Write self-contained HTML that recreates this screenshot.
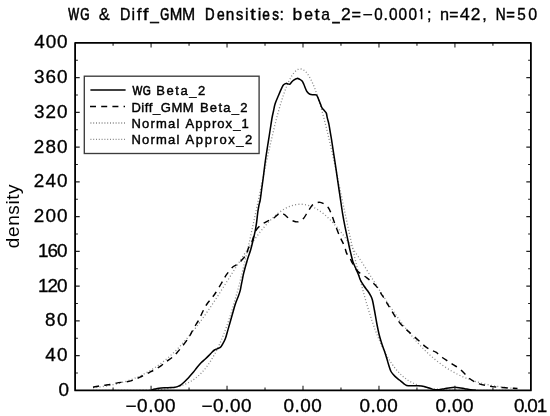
<!DOCTYPE html><html><head><meta charset="utf-8"><style>html,body{margin:0;padding:0;background:#fff;width:550px;height:416px;overflow:hidden}svg{display:block;will-change:transform}</style></head><body>
<svg width="550" height="416" viewBox="0 0 550 416">
<rect width="550" height="416" fill="#fff"/>
<defs><clipPath id="c"><rect x="75.1" y="42.9" width="455.8" height="347.5"/></clipPath></defs>
<g clip-path="url(#c)" fill="none">
<path d="M93.00,387.80 L94.00,387.69 L95.00,387.58 L96.00,387.46 L97.00,387.34 L98.00,387.21 L99.00,387.08 L100.00,386.95 L101.00,386.81 L102.00,386.66 L103.00,386.51 L104.00,386.36 L105.00,386.20 L106.00,386.03 L107.00,385.86 L108.00,385.68 L109.00,385.50 L110.00,385.31 L111.00,385.12 L112.00,384.91 L113.00,384.70 L114.00,384.49 L115.00,384.27 L116.00,384.04 L117.00,383.80 L118.00,383.56 L119.00,383.31 L120.00,383.05 L121.00,382.78 L122.00,382.50 L123.00,382.22 L124.00,381.93 L125.00,381.63 L126.00,381.32 L127.00,381.00 L128.00,380.67 L129.00,380.33 L130.00,379.98 L131.00,379.63 L132.00,379.26 L133.00,378.88 L134.00,378.49 L135.00,378.10 L136.00,377.69 L137.00,377.27 L138.00,376.83 L139.00,376.39 L140.00,375.94 L141.00,375.47 L142.00,374.99 L143.00,374.50 L144.00,374.00 L145.00,373.48 L146.00,372.95 L147.00,372.41 L148.00,371.86 L149.00,371.29 L150.00,370.71 L151.00,370.12 L152.00,369.51 L153.00,368.89 L154.00,368.25 L155.00,367.60 L156.00,366.93 L157.00,366.25 L158.00,365.56 L159.00,364.85 L160.00,364.12 L161.00,363.38 L162.00,362.63 L163.00,361.86 L164.00,361.07 L165.00,360.27 L166.00,359.45 L167.00,358.62 L168.00,357.77 L169.00,356.90 L170.00,356.02 L171.00,355.12 L172.00,354.21 L173.00,353.28 L174.00,352.33 L175.00,351.36 L176.00,350.38 L177.00,349.39 L178.00,348.38 L179.00,347.35 L180.00,346.30 L181.00,345.24 L182.00,344.16 L183.00,343.06 L184.00,341.95 L185.00,340.82 L186.00,339.68 L187.00,338.52 L188.00,337.34 L189.00,336.15 L190.00,334.94 L191.00,333.72 L192.00,332.48 L193.00,331.23 L194.00,329.96 L195.00,328.67 L196.00,327.37 L197.00,326.06 L198.00,324.73 L199.00,323.39 L200.00,322.03 L201.00,320.66 L202.00,319.28 L203.00,317.89 L204.00,316.48 L205.00,315.06 L206.00,313.62 L207.00,312.18 L208.00,310.72 L209.00,309.25 L210.00,307.77 L211.00,306.29 L212.00,304.79 L213.00,303.28 L214.00,301.76 L215.00,300.24 L216.00,298.71 L217.00,297.17 L218.00,295.62 L219.00,294.06 L220.00,292.50 L221.00,290.94 L222.00,289.37 L223.00,287.79 L224.00,286.21 L225.00,284.63 L226.00,283.04 L227.00,281.45 L228.00,279.87 L229.00,278.28 L230.00,276.69 L231.00,275.10 L232.00,273.51 L233.00,271.92 L234.00,270.33 L235.00,268.75 L236.00,267.17 L237.00,265.60 L238.00,264.03 L239.00,262.46 L240.00,260.91 L241.00,259.36 L242.00,257.81 L243.00,256.28 L244.00,254.75 L245.00,253.24 L246.00,251.73 L247.00,250.24 L248.00,248.76 L249.00,247.29 L250.00,245.84 L251.00,244.39 L252.00,242.97 L253.00,241.56 L254.00,240.16 L255.00,238.79 L256.00,237.43 L257.00,236.09 L258.00,234.76 L259.00,233.46 L260.00,232.18 L261.00,230.92 L262.00,229.68 L263.00,228.46 L264.00,227.27 L265.00,226.10 L266.00,224.96 L267.00,223.84 L268.00,222.74 L269.00,221.68 L270.00,220.64 L271.00,219.62 L272.00,218.64 L273.00,217.68 L274.00,216.75 L275.00,215.86 L276.00,214.99 L277.00,214.15 L278.00,213.34 L279.00,212.57 L280.00,211.83 L281.00,211.12 L282.00,210.44 L283.00,209.80 L284.00,209.19 L285.00,208.61 L286.00,208.07 L287.00,207.56 L288.00,207.09 L289.00,206.65 L290.00,206.25 L291.00,205.89 L292.00,205.56 L293.00,205.26 L294.00,205.01 L295.00,204.78 L296.00,204.60 L297.00,204.45 L298.00,204.34 L299.00,204.27 L300.00,204.23 L301.00,204.23 L302.00,204.27 L303.00,204.34 L304.00,204.45 L305.00,204.60 L306.00,204.78 L307.00,205.01 L308.00,205.26 L309.00,205.56 L310.00,205.89 L311.00,206.25 L312.00,206.65 L313.00,207.09 L314.00,207.56 L315.00,208.07 L316.00,208.61 L317.00,209.19 L318.00,209.80 L319.00,210.44 L320.00,211.12 L321.00,211.83 L322.00,212.57 L323.00,213.34 L324.00,214.15 L325.00,214.99 L326.00,215.86 L327.00,216.75 L328.00,217.68 L329.00,218.64 L330.00,219.62 L331.00,220.64 L332.00,221.68 L333.00,222.74 L334.00,223.84 L335.00,224.96 L336.00,226.10 L337.00,227.27 L338.00,228.46 L339.00,229.68 L340.00,230.92 L341.00,232.18 L342.00,233.46 L343.00,234.76 L344.00,236.09 L345.00,237.43 L346.00,238.79 L347.00,240.16 L348.00,241.56 L349.00,242.97 L350.00,244.39 L351.00,245.84 L352.00,247.29 L353.00,248.76 L354.00,250.24 L355.00,251.73 L356.00,253.24 L357.00,254.75 L358.00,256.28 L359.00,257.81 L360.00,259.36 L361.00,260.91 L362.00,262.46 L363.00,264.03 L364.00,265.60 L365.00,267.17 L366.00,268.75 L367.00,270.33 L368.00,271.92 L369.00,273.51 L370.00,275.10 L371.00,276.69 L372.00,278.28 L373.00,279.87 L374.00,281.45 L375.00,283.04 L376.00,284.63 L377.00,286.21 L378.00,287.79 L379.00,289.37 L380.00,290.94 L381.00,292.50 L382.00,294.06 L383.00,295.62 L384.00,297.17 L385.00,298.71 L386.00,300.24 L387.00,301.76 L388.00,303.28 L389.00,304.79 L390.00,306.29 L391.00,307.77 L392.00,309.25 L393.00,310.72 L394.00,312.18 L395.00,313.62 L396.00,315.06 L397.00,316.48 L398.00,317.89 L399.00,319.28 L400.00,320.66 L401.00,322.03 L402.00,323.39 L403.00,324.73 L404.00,326.06 L405.00,327.37 L406.00,328.67 L407.00,329.96 L408.00,331.23 L409.00,332.48 L410.00,333.72 L411.00,334.94 L412.00,336.15 L413.00,337.34 L414.00,338.52 L415.00,339.68 L416.00,340.82 L417.00,341.95 L418.00,343.06 L419.00,344.16 L420.00,345.24 L421.00,346.30 L422.00,347.35 L423.00,348.38 L424.00,349.39 L425.00,350.38 L426.00,351.36 L427.00,352.33 L428.00,353.28 L429.00,354.21 L430.00,355.12 L431.00,356.02 L432.00,356.90 L433.00,357.77 L434.00,358.62 L435.00,359.45 L436.00,360.27 L437.00,361.07 L438.00,361.86 L439.00,362.63 L440.00,363.38 L441.00,364.12 L442.00,364.85 L443.00,365.56 L444.00,366.25 L445.00,366.93 L446.00,367.60 L447.00,368.25 L448.00,368.89 L449.00,369.51 L450.00,370.12 L451.00,370.71 L452.00,371.29 L453.00,371.86 L454.00,372.41 L455.00,372.95 L456.00,373.48 L457.00,374.00 L458.00,374.50 L459.00,374.99 L460.00,375.47 L461.00,375.94 L462.00,376.39 L463.00,376.83 L464.00,377.27 L465.00,377.69 L466.00,378.10 L467.00,378.49 L468.00,378.88 L469.00,379.26 L470.00,379.63 L471.00,379.98 L472.00,380.33 L473.00,380.67 L474.00,381.00 L475.00,381.32 L476.00,381.63 L477.00,381.93 L478.00,382.22 L479.00,382.50 L480.00,382.78 L481.00,383.05 L482.00,383.31 L483.00,383.56 L484.00,383.80 L485.00,384.04 L486.00,384.27 L487.00,384.49 L488.00,384.70 L489.00,384.91 L490.00,385.12 L491.00,385.31 L492.00,385.50 L493.00,385.68 L494.00,385.86 L495.00,386.03 L496.00,386.20 L497.00,386.36 L498.00,386.51 L499.00,386.66 L500.00,386.81 L501.00,386.95 L502.00,387.08 L503.00,387.21 L504.00,387.34 L505.00,387.46 L506.00,387.58 L507.00,387.69 L508.00,387.80 L509.00,387.90 L510.00,388.01 L511.00,388.10 L512.00,388.20 L513.00,388.29 L514.00,388.38 L515.00,388.46 L516.00,388.54 L517.00,388.62" stroke="#888" stroke-width="1.3" stroke-dasharray="1 2.3"/>
<path d="M93.00,390.40 L94.00,390.40 L95.00,390.40 L96.00,390.40 L97.00,390.40 L98.00,390.40 L99.00,390.40 L100.00,390.40 L101.00,390.40 L102.00,390.40 L103.00,390.40 L104.00,390.40 L105.00,390.40 L106.00,390.40 L107.00,390.40 L108.00,390.39 L109.00,390.39 L110.00,390.39 L111.00,390.39 L112.00,390.39 L113.00,390.39 L114.00,390.39 L115.00,390.39 L116.00,390.39 L117.00,390.39 L118.00,390.38 L119.00,390.38 L120.00,390.38 L121.00,390.38 L122.00,390.37 L123.00,390.37 L124.00,390.37 L125.00,390.37 L126.00,390.36 L127.00,390.36 L128.00,390.35 L129.00,390.35 L130.00,390.34 L131.00,390.34 L132.00,390.33 L133.00,390.32 L134.00,390.31 L135.00,390.31 L136.00,390.30 L137.00,390.28 L138.00,390.27 L139.00,390.26 L140.00,390.25 L141.00,390.23 L142.00,390.21 L143.00,390.20 L144.00,390.18 L145.00,390.15 L146.00,390.13 L147.00,390.10 L148.00,390.08 L149.00,390.05 L150.00,390.01 L151.00,389.98 L152.00,389.94 L153.00,389.89 L154.00,389.85 L155.00,389.80 L156.00,389.74 L157.00,389.68 L158.00,389.62 L159.00,389.55 L160.00,389.48 L161.00,389.40 L162.00,389.31 L163.00,389.22 L164.00,389.12 L165.00,389.01 L166.00,388.90 L167.00,388.77 L168.00,388.64 L169.00,388.49 L170.00,388.34 L171.00,388.17 L172.00,388.00 L173.00,387.81 L174.00,387.60 L175.00,387.39 L176.00,387.15 L177.00,386.91 L178.00,386.64 L179.00,386.36 L180.00,386.06 L181.00,385.74 L182.00,385.40 L183.00,385.03 L184.00,384.65 L185.00,384.24 L186.00,383.80 L187.00,383.34 L188.00,382.85 L189.00,382.33 L190.00,381.78 L191.00,381.20 L192.00,380.58 L193.00,379.93 L194.00,379.25 L195.00,378.52 L196.00,377.76 L197.00,376.95 L198.00,376.10 L199.00,375.21 L200.00,374.27 L201.00,373.29 L202.00,372.25 L203.00,371.16 L204.00,370.02 L205.00,368.83 L206.00,367.58 L207.00,366.27 L208.00,364.90 L209.00,363.47 L210.00,361.97 L211.00,360.41 L212.00,358.78 L213.00,357.09 L214.00,355.32 L215.00,353.49 L216.00,351.58 L217.00,349.59 L218.00,347.53 L219.00,345.39 L220.00,343.18 L221.00,340.88 L222.00,338.51 L223.00,336.05 L224.00,333.51 L225.00,330.88 L226.00,328.17 L227.00,325.38 L228.00,322.50 L229.00,319.54 L230.00,316.49 L231.00,313.36 L232.00,310.14 L233.00,306.84 L234.00,303.45 L235.00,299.98 L236.00,296.42 L237.00,292.79 L238.00,289.07 L239.00,285.28 L240.00,281.41 L241.00,277.46 L242.00,273.44 L243.00,269.35 L244.00,265.19 L245.00,260.96 L246.00,256.67 L247.00,252.32 L248.00,247.92 L249.00,243.46 L250.00,238.95 L251.00,234.40 L252.00,229.80 L253.00,225.17 L254.00,220.51 L255.00,215.81 L256.00,211.10 L257.00,206.36 L258.00,201.62 L259.00,196.86 L260.00,192.11 L261.00,187.36 L262.00,182.62 L263.00,177.89 L264.00,173.19 L265.00,168.51 L266.00,163.87 L267.00,159.27 L268.00,154.72 L269.00,150.22 L270.00,145.78 L271.00,141.40 L272.00,137.10 L273.00,132.87 L274.00,128.73 L275.00,124.69 L276.00,120.74 L277.00,116.89 L278.00,113.16 L279.00,109.54 L280.00,106.04 L281.00,102.67 L282.00,99.44 L283.00,96.34 L284.00,93.39 L285.00,90.58 L286.00,87.93 L287.00,85.44 L288.00,83.11 L289.00,80.94 L290.00,78.95 L291.00,77.13 L292.00,75.48 L293.00,74.02 L294.00,72.73 L295.00,71.64 L296.00,70.73 L297.00,70.00 L298.00,69.47 L299.00,69.12 L300.00,68.97 L301.00,69.01 L302.00,69.24 L303.00,69.66 L304.00,70.27 L305.00,71.07 L306.00,72.05 L307.00,73.23 L308.00,74.58 L309.00,76.12 L310.00,77.83 L311.00,79.72 L312.00,81.79 L313.00,84.02 L314.00,86.42 L315.00,88.97 L316.00,91.69 L317.00,94.55 L318.00,97.56 L319.00,100.72 L320.00,104.01 L321.00,107.43 L322.00,110.97 L323.00,114.64 L324.00,118.42 L325.00,122.31 L326.00,126.30 L327.00,130.38 L328.00,134.55 L329.00,138.81 L330.00,143.14 L331.00,147.54 L332.00,152.01 L333.00,156.53 L334.00,161.11 L335.00,165.72 L336.00,170.38 L337.00,175.07 L338.00,179.78 L339.00,184.51 L340.00,189.26 L341.00,194.01 L342.00,198.77 L343.00,203.52 L344.00,208.26 L345.00,212.99 L346.00,217.69 L347.00,222.37 L348.00,227.03 L349.00,231.64 L350.00,236.22 L351.00,240.76 L352.00,245.25 L353.00,249.69 L354.00,254.07 L355.00,258.40 L356.00,262.66 L357.00,266.86 L358.00,270.99 L359.00,275.06 L360.00,279.05 L361.00,282.97 L362.00,286.81 L363.00,290.57 L364.00,294.25 L365.00,297.86 L366.00,301.38 L367.00,304.81 L368.00,308.17 L369.00,311.44 L370.00,314.62 L371.00,317.72 L372.00,320.74 L373.00,323.66 L374.00,326.51 L375.00,329.27 L376.00,331.94 L377.00,334.53 L378.00,337.04 L379.00,339.47 L380.00,341.81 L381.00,344.07 L382.00,346.26 L383.00,348.36 L384.00,350.39 L385.00,352.35 L386.00,354.23 L387.00,356.04 L388.00,357.77 L389.00,359.44 L390.00,361.04 L391.00,362.58 L392.00,364.05 L393.00,365.45 L394.00,366.80 L395.00,368.08 L396.00,369.31 L397.00,370.49 L398.00,371.60 L399.00,372.67 L400.00,373.69 L401.00,374.65 L402.00,375.57 L403.00,376.45 L404.00,377.28 L405.00,378.07 L406.00,378.82 L407.00,379.53 L408.00,380.20 L409.00,380.83 L410.00,381.43 L411.00,382.00 L412.00,382.54 L413.00,383.05 L414.00,383.53 L415.00,383.98 L416.00,384.40 L417.00,384.80 L418.00,385.18 L419.00,385.54 L420.00,385.87 L421.00,386.18 L422.00,386.47 L423.00,386.75 L424.00,387.01 L425.00,387.25 L426.00,387.48 L427.00,387.69 L428.00,387.88 L429.00,388.07 L430.00,388.24 L431.00,388.40 L432.00,388.55 L433.00,388.69 L434.00,388.82 L435.00,388.94 L436.00,389.06 L437.00,389.16 L438.00,389.26 L439.00,389.35 L440.00,389.43 L441.00,389.51 L442.00,389.58 L443.00,389.65 L444.00,389.71 L445.00,389.77 L446.00,389.82 L447.00,389.87 L448.00,389.91 L449.00,389.95 L450.00,389.99 L451.00,390.03 L452.00,390.06 L453.00,390.09 L454.00,390.11 L455.00,390.14 L456.00,390.16 L457.00,390.18 L458.00,390.20 L459.00,390.22 L460.00,390.24 L461.00,390.25 L462.00,390.27 L463.00,390.28 L464.00,390.29 L465.00,390.30 L466.00,390.31 L467.00,390.32 L468.00,390.33 L469.00,390.33 L470.00,390.34 L471.00,390.34 L472.00,390.35 L473.00,390.35 L474.00,390.36 L475.00,390.36 L476.00,390.37 L477.00,390.37 L478.00,390.37 L479.00,390.38 L480.00,390.38 L481.00,390.38 L482.00,390.38 L483.00,390.38 L484.00,390.39 L485.00,390.39 L486.00,390.39 L487.00,390.39 L488.00,390.39 L489.00,390.39 L490.00,390.39 L491.00,390.39 L492.00,390.39 L493.00,390.39 L494.00,390.40 L495.00,390.40 L496.00,390.40 L497.00,390.40 L498.00,390.40 L499.00,390.40 L500.00,390.40 L501.00,390.40 L502.00,390.40 L503.00,390.40 L504.00,390.40 L505.00,390.40 L506.00,390.40 L507.00,390.40 L508.00,390.40 L509.00,390.40 L510.00,390.40 L511.00,390.40 L512.00,390.40 L513.00,390.40 L514.00,390.40 L515.00,390.40 L516.00,390.40 L517.00,390.40" stroke="#888" stroke-width="1.3" stroke-dasharray="1 2.1"/>
<path d="M93.00,387.20 C93.85,387.03 96.17,386.52 98.10,386.20 C100.03,385.88 102.60,385.58 104.60,385.30 C106.60,385.02 108.10,384.87 110.10,384.50 C112.10,384.13 114.78,383.45 116.60,383.10 C118.42,382.75 119.35,382.62 121.00,382.40 C122.65,382.18 124.87,382.05 126.50,381.80 C128.13,381.55 129.53,381.27 130.80,380.90 C132.07,380.53 133.00,380.03 134.10,379.60 C135.20,379.17 136.42,378.70 137.40,378.30 C138.38,377.90 138.85,377.75 140.00,377.20 C141.15,376.65 142.68,375.82 144.30,375.00 C145.92,374.18 147.88,373.23 149.70,372.30 C151.52,371.37 153.22,370.57 155.20,369.40 C157.18,368.23 159.72,366.62 161.60,365.30 C163.48,363.98 164.68,362.85 166.50,361.50 C168.32,360.15 170.70,358.73 172.50,357.20 C174.30,355.67 175.68,354.10 177.30,352.30 C178.92,350.50 180.48,348.57 182.20,346.40 C183.92,344.23 186.17,341.40 187.60,339.30 C189.03,337.20 189.65,335.85 190.80,333.80 C191.95,331.75 193.22,329.23 194.50,327.00 C195.78,324.77 197.33,322.53 198.50,320.40 C199.67,318.27 200.55,316.13 201.50,314.20 C202.45,312.27 203.28,310.50 204.20,308.80 C205.12,307.10 206.03,305.43 207.00,304.00 C207.97,302.57 209.00,301.45 210.00,300.20 C211.00,298.95 212.03,297.78 213.00,296.50 C213.97,295.22 214.47,294.58 215.80,292.50 C217.13,290.42 219.60,286.37 221.00,284.00 C222.40,281.63 223.13,280.07 224.20,278.30 C225.27,276.53 226.05,275.22 227.40,273.40 C228.75,271.58 230.95,268.73 232.30,267.40 C233.65,266.07 234.52,266.02 235.50,265.40 C236.48,264.78 236.88,264.88 238.20,263.70 C239.52,262.52 241.98,259.92 243.40,258.30 C244.82,256.68 245.88,255.63 246.70,254.00 C247.52,252.37 247.50,250.40 248.30,248.50 C249.10,246.60 250.55,244.77 251.50,242.60 C252.45,240.43 253.17,237.68 254.00,235.50 C254.83,233.32 255.35,231.27 256.50,229.50 C257.65,227.73 259.43,226.10 260.90,224.90 C262.37,223.70 263.85,223.10 265.30,222.30 C266.75,221.50 268.17,220.82 269.60,220.10 C271.03,219.38 272.58,218.88 273.90,218.00 C275.22,217.12 276.33,215.63 277.50,214.80 C278.67,213.97 279.73,213.02 280.90,213.00 C282.07,212.98 283.17,213.80 284.50,214.70 C285.83,215.60 287.32,217.30 288.90,218.40 C290.48,219.50 292.42,220.75 294.00,221.30 C295.58,221.85 296.82,222.18 298.40,221.70 C299.98,221.22 301.93,220.05 303.50,218.40 C305.07,216.75 306.35,213.98 307.80,211.80 C309.25,209.62 310.75,206.80 312.20,205.30 C313.65,203.80 315.17,203.28 316.50,202.80 C317.83,202.32 318.98,202.23 320.20,202.40 C321.42,202.57 322.47,202.95 323.80,203.80 C325.13,204.65 326.98,205.92 328.20,207.50 C329.42,209.08 330.18,211.13 331.10,213.30 C332.02,215.47 332.75,217.88 333.70,220.50 C334.65,223.12 335.75,226.25 336.80,229.00 C337.85,231.75 339.02,234.77 340.00,237.00 C340.98,239.23 341.87,240.57 342.70,242.40 C343.53,244.23 344.33,246.17 345.00,248.00 C345.67,249.83 345.85,251.65 346.70,253.40 C347.55,255.15 349.12,256.82 350.10,258.50 C351.08,260.18 351.48,261.53 352.60,263.50 C353.72,265.47 355.27,268.47 356.80,270.30 C358.33,272.13 360.12,273.25 361.80,274.50 C363.48,275.75 365.22,276.55 366.90,277.80 C368.58,279.05 370.22,280.45 371.90,282.00 C373.58,283.55 375.45,285.13 377.00,287.10 C378.55,289.07 379.95,291.85 381.20,293.80 C382.45,295.75 383.38,296.98 384.50,298.80 C385.62,300.62 386.92,303.05 387.90,304.70 C388.88,306.35 389.17,306.68 390.40,308.70 C391.63,310.72 393.65,314.33 395.30,316.80 C396.95,319.27 398.62,321.53 400.30,323.50 C401.98,325.47 404.02,327.25 405.40,328.60 C406.78,329.95 407.17,330.30 408.60,331.60 C410.03,332.90 412.10,334.70 414.00,336.40 C415.90,338.10 418.10,340.10 420.00,341.80 C421.90,343.50 423.48,345.20 425.40,346.60 C427.32,348.00 429.68,349.23 431.50,350.20 C433.32,351.17 434.50,351.18 436.30,352.40 C438.10,353.62 440.40,356.05 442.30,357.50 C444.20,358.95 445.90,359.90 447.70,361.10 C449.50,362.30 451.20,363.50 453.10,364.70 C455.00,365.90 457.20,366.82 459.10,368.30 C461.00,369.78 462.77,371.90 464.50,373.60 C466.23,375.30 467.85,377.15 469.50,378.50 C471.15,379.85 472.77,380.80 474.40,381.70 C476.03,382.60 477.40,383.27 479.30,383.90 C481.20,384.53 483.62,385.05 485.80,385.50 C487.98,385.95 490.22,386.30 492.40,386.60 C494.58,386.90 496.72,387.10 498.90,387.30 C501.08,387.50 503.32,387.65 505.50,387.80 C507.68,387.95 510.00,388.08 512.00,388.20 C514.00,388.32 516.58,388.45 517.50,388.50" stroke="#000" stroke-width="1.45" stroke-dasharray="6.2 5.2" stroke-linejoin="round"/>
<path d="M151.00,390.20 C151.67,390.00 153.67,389.33 155.00,389.00 C156.33,388.67 157.33,388.40 159.00,388.20 C160.67,388.00 163.00,387.90 165.00,387.80 C167.00,387.70 169.33,387.70 171.00,387.60 C172.67,387.50 173.83,387.40 175.00,387.20 C176.17,387.00 177.00,386.80 178.00,386.40 C179.00,386.00 180.00,385.48 181.00,384.80 C182.00,384.12 183.00,383.22 184.00,382.30 C185.00,381.38 186.00,380.35 187.00,379.30 C188.00,378.25 188.92,377.22 190.00,376.00 C191.08,374.78 192.33,373.42 193.50,372.00 C194.67,370.58 195.70,369.08 197.00,367.50 C198.30,365.92 199.92,363.92 201.30,362.50 C202.68,361.08 204.02,360.18 205.30,359.00 C206.58,357.82 207.88,356.53 209.00,355.40 C210.12,354.27 211.08,353.10 212.00,352.20 C212.92,351.30 213.67,350.55 214.50,350.00 C215.33,349.45 216.03,349.33 217.00,348.90 C217.97,348.47 219.40,348.13 220.30,347.40 C221.20,346.67 221.57,345.93 222.40,344.50 C223.23,343.07 224.37,341.28 225.30,338.80 C226.23,336.32 227.15,332.53 228.00,329.60 C228.85,326.67 229.60,324.00 230.40,321.20 C231.20,318.40 232.00,315.60 232.80,312.80 C233.60,310.00 234.27,307.20 235.20,304.40 C236.13,301.60 237.58,298.25 238.40,296.00 C239.22,293.75 239.63,292.67 240.10,290.90 C240.57,289.13 240.83,287.23 241.20,285.40 C241.57,283.57 241.93,281.75 242.30,279.90 C242.67,278.05 242.93,276.33 243.40,274.30 C243.87,272.27 244.55,269.72 245.10,267.70 C245.65,265.68 246.15,264.05 246.70,262.20 C247.25,260.35 247.75,258.63 248.40,256.60 C249.05,254.57 249.95,252.18 250.60,250.00 C251.25,247.82 251.53,246.68 252.30,243.50 C253.07,240.32 254.48,234.43 255.20,230.90 C255.92,227.37 256.17,225.42 256.60,222.30 C257.03,219.18 257.40,215.08 257.80,212.20 C258.20,209.32 258.60,207.03 259.00,205.00 C259.40,202.97 259.72,202.92 260.20,200.00 C260.68,197.08 261.40,191.17 261.90,187.50 C262.40,183.83 262.72,181.75 263.20,178.00 C263.68,174.25 264.30,168.83 264.80,165.00 C265.30,161.17 265.73,158.17 266.20,155.00 C266.67,151.83 267.10,149.17 267.60,146.00 C268.10,142.83 268.72,139.08 269.20,136.00 C269.68,132.92 270.00,130.67 270.50,127.50 C271.00,124.33 271.70,119.75 272.20,117.00 C272.70,114.25 273.00,113.23 273.50,111.00 C274.00,108.77 274.35,106.23 275.20,103.60 C276.05,100.97 277.48,97.87 278.60,95.20 C279.72,92.53 281.07,89.33 281.90,87.60 C282.73,85.87 282.90,85.50 283.60,84.80 C284.30,84.10 285.12,83.48 286.10,83.40 C287.08,83.32 288.65,84.43 289.50,84.30 C290.35,84.17 290.50,83.30 291.20,82.60 C291.90,81.90 292.72,80.80 293.70,80.10 C294.68,79.40 296.12,78.55 297.10,78.40 C298.08,78.25 298.77,78.78 299.60,79.20 C300.43,79.62 301.40,80.05 302.10,80.90 C302.80,81.75 303.23,83.03 303.80,84.30 C304.37,85.57 304.95,87.25 305.50,88.50 C306.05,89.75 306.35,90.83 307.10,91.80 C307.85,92.77 308.88,93.80 310.00,94.30 C311.12,94.80 312.68,94.63 313.80,94.80 C314.92,94.97 315.88,94.50 316.70,95.30 C317.52,96.10 318.05,98.08 318.70,99.60 C319.35,101.12 320.05,103.03 320.60,104.40 C321.15,105.77 321.37,106.75 322.00,107.80 C322.63,108.85 323.68,109.82 324.40,110.70 C325.12,111.58 325.82,111.90 326.30,113.10 C326.78,114.30 326.88,116.13 327.30,117.90 C327.72,119.67 328.37,121.68 328.80,123.70 C329.23,125.72 329.45,127.38 329.90,130.00 C330.35,132.62 330.87,135.43 331.50,139.40 C332.13,143.37 332.97,149.00 333.70,153.80 C334.43,158.60 335.25,163.83 335.90,168.20 C336.55,172.57 336.90,175.23 337.60,180.00 C338.30,184.77 339.27,191.20 340.10,196.80 C340.93,202.40 341.77,208.55 342.60,213.60 C343.43,218.65 344.27,222.90 345.10,227.10 C345.93,231.30 346.87,235.32 347.60,238.80 C348.33,242.28 348.93,245.43 349.50,248.00 C350.07,250.57 350.43,251.90 351.00,254.20 C351.57,256.50 352.13,259.50 352.90,261.80 C353.67,264.10 354.70,265.93 355.60,268.00 C356.50,270.07 357.50,272.20 358.30,274.20 C359.10,276.20 359.45,278.03 360.40,280.00 C361.35,281.97 362.80,284.20 364.00,286.00 C365.20,287.80 366.50,289.20 367.60,290.80 C368.70,292.40 369.80,294.07 370.60,295.60 C371.40,297.13 371.77,297.60 372.40,300.00 C373.03,302.40 373.67,306.08 374.40,310.00 C375.13,313.92 375.98,319.28 376.80,323.50 C377.62,327.72 378.47,331.93 379.30,335.30 C380.13,338.67 380.95,341.08 381.80,343.70 C382.65,346.32 383.62,348.70 384.40,351.00 C385.18,353.30 385.78,355.17 386.50,357.50 C387.22,359.83 387.95,362.67 388.70,365.00 C389.45,367.33 389.95,369.60 391.00,371.50 C392.05,373.40 393.60,374.98 395.00,376.40 C396.40,377.82 397.95,378.80 399.40,380.00 C400.85,381.20 402.50,382.70 403.70,383.60 C404.90,384.50 405.13,385.03 406.60,385.40 C408.07,385.77 410.55,385.73 412.50,385.80 C414.45,385.87 416.37,385.68 418.30,385.80 C420.23,385.92 422.17,386.08 424.10,386.50 C426.03,386.92 428.20,387.77 429.90,388.30 C431.60,388.83 432.85,389.47 434.30,389.70 C435.75,389.93 436.90,389.87 438.60,389.70 C440.30,389.53 442.55,389.03 444.50,388.70 C446.45,388.37 448.62,387.93 450.30,387.70 C451.98,387.47 453.15,387.30 454.60,387.30 C456.05,387.30 457.30,387.47 459.00,387.70 C460.70,387.93 462.87,388.37 464.80,388.70 C466.73,389.03 468.73,389.43 470.60,389.70 C472.47,389.97 475.10,390.20 476.00,390.30" stroke="#000" stroke-width="1.55" stroke-linejoin="round"/>
</g>
<path d="M151.07,390.40 v-4.6 M151.07,42.90 v4.6 M227.03,390.40 v-4.6 M227.03,42.90 v4.6 M303.00,390.40 v-4.6 M303.00,42.90 v4.6 M378.97,390.40 v-4.6 M378.97,42.90 v4.6 M454.93,390.40 v-4.6 M454.93,42.90 v4.6 M113.08,390.40 v-2.8 M113.08,42.90 v2.8 M189.05,390.40 v-2.8 M189.05,42.90 v2.8 M265.02,390.40 v-2.8 M265.02,42.90 v2.8 M340.98,390.40 v-2.8 M340.98,42.90 v2.8 M416.95,390.40 v-2.8 M416.95,42.90 v2.8 M492.92,390.40 v-2.8 M492.92,42.90 v2.8 M75.10,355.65 h4.6 M530.90,355.65 h-4.6 M75.10,320.90 h4.6 M530.90,320.90 h-4.6 M75.10,286.15 h4.6 M530.90,286.15 h-4.6 M75.10,251.40 h4.6 M530.90,251.40 h-4.6 M75.10,216.65 h4.6 M530.90,216.65 h-4.6 M75.10,181.90 h4.6 M530.90,181.90 h-4.6 M75.10,147.15 h4.6 M530.90,147.15 h-4.6 M75.10,112.40 h4.6 M530.90,112.40 h-4.6 M75.10,77.65 h4.6 M530.90,77.65 h-4.6 M75.10,373.02 h2.8 M530.90,373.02 h-2.8 M75.10,338.27 h2.8 M530.90,338.27 h-2.8 M75.10,303.52 h2.8 M530.90,303.52 h-2.8 M75.10,268.77 h2.8 M530.90,268.77 h-2.8 M75.10,234.02 h2.8 M530.90,234.02 h-2.8 M75.10,199.27 h2.8 M530.90,199.27 h-2.8 M75.10,164.52 h2.8 M530.90,164.52 h-2.8 M75.10,129.77 h2.8 M530.90,129.77 h-2.8 M75.10,95.02 h2.8 M530.90,95.02 h-2.8 M75.10,60.27 h2.8 M530.90,60.27 h-2.8" stroke="#222" stroke-width="1.1" fill="none"/>
<rect x="75.10" y="42.90" width="455.80" height="347.50" fill="none" stroke="#000" stroke-width="1.8" stroke-linejoin="round"/>
<rect x="84.3" y="76.2" width="174.8" height="77.3" fill="#fff" stroke="#3c3c3c" stroke-width="1.35"/>
<path d="M90.4,90 H125.6" stroke="#000" stroke-width="1.45"/>
<path d="M90,106.4 H125" stroke="#000" stroke-width="1.45" stroke-dasharray="6 5.2"/>
<path d="M90.4,123 H125" stroke="#888" stroke-width="1.3" stroke-dasharray="1 1.8"/>
<path d="M90.4,139.4 H125" stroke="#888" stroke-width="1.3" stroke-dasharray="1 1.8"/>
<text transform="translate(132.42,95.20) scale(0.800,1)" font-family="Liberation Sans" font-size="13.00" letter-spacing="0.700" fill="#000" stroke="#000" stroke-width="0.6699999999999999">WG</text>
<text transform="translate(156.30,95.20) scale(1.000,1)" font-family="Liberation Sans" font-size="13.00" letter-spacing="1.540" fill="#000" stroke="#000" stroke-width="0.42">Beta_2</text>
<text transform="translate(131.40,111.60) scale(1.000,1)" font-family="Liberation Sans" font-size="13.00" letter-spacing="0.571" fill="#000" stroke="#000" stroke-width="0.42">Diff_GMM</text>
<text transform="translate(199.90,111.60) scale(1.000,1)" font-family="Liberation Sans" font-size="13.00" letter-spacing="1.300" fill="#000" stroke="#000" stroke-width="0.42">Beta_2</text>
<text transform="translate(131.40,127.70) scale(1.000,1)" font-family="Liberation Sans" font-size="13.00" letter-spacing="1.220" fill="#000" stroke="#000" stroke-width="0.42">Normal</text>
<text transform="translate(185.60,127.70) scale(1.000,1)" font-family="Liberation Sans" font-size="13.00" letter-spacing="1.057" fill="#000" stroke="#000" stroke-width="0.42">Approx_1</text>
<text transform="translate(131.40,144.00) scale(1.000,1)" font-family="Liberation Sans" font-size="13.00" letter-spacing="1.220" fill="#000" stroke="#000" stroke-width="0.42">Normal</text>
<text transform="translate(185.60,144.00) scale(1.000,1)" font-family="Liberation Sans" font-size="13.00" letter-spacing="1.586" fill="#000" stroke="#000" stroke-width="0.42">Approx_2</text>
<text transform="translate(58.44,395.80) scale(1.080,1)" font-family="Liberation Sans" font-size="17.50" letter-spacing="0.000" fill="#000" stroke="#000" stroke-width="0.3">0</text>
<text transform="translate(45.37,361.05) scale(1.080,1)" font-family="Liberation Sans" font-size="17.50" letter-spacing="1.044" fill="#000" stroke="#000" stroke-width="0.3">40</text>
<text transform="translate(44.94,326.30) scale(1.080,1)" font-family="Liberation Sans" font-size="17.50" letter-spacing="1.444" fill="#000" stroke="#000" stroke-width="0.3">80</text>
<text transform="translate(37.90,291.55) scale(1.080,1)" font-family="Liberation Sans" font-size="17.50" letter-spacing="-0.869" fill="#000" stroke="#000" stroke-width="0.3">120</text>
<text transform="translate(37.90,256.80) scale(1.080,1)" font-family="Liberation Sans" font-size="17.50" letter-spacing="-0.869" fill="#000" stroke="#000" stroke-width="0.3">160</text>
<text transform="translate(33.83,222.05) scale(1.080,1)" font-family="Liberation Sans" font-size="17.50" letter-spacing="1.015" fill="#000" stroke="#000" stroke-width="0.3">200</text>
<text transform="translate(33.83,187.30) scale(1.080,1)" font-family="Liberation Sans" font-size="17.50" letter-spacing="1.015" fill="#000" stroke="#000" stroke-width="0.3">240</text>
<text transform="translate(33.83,152.55) scale(1.080,1)" font-family="Liberation Sans" font-size="17.50" letter-spacing="1.015" fill="#000" stroke="#000" stroke-width="0.3">280</text>
<text transform="translate(34.04,117.80) scale(1.080,1)" font-family="Liberation Sans" font-size="17.50" letter-spacing="0.915" fill="#000" stroke="#000" stroke-width="0.3">320</text>
<text transform="translate(34.04,83.05) scale(1.080,1)" font-family="Liberation Sans" font-size="17.50" letter-spacing="0.915" fill="#000" stroke="#000" stroke-width="0.3">360</text>
<text transform="translate(34.37,48.30) scale(1.080,1)" font-family="Liberation Sans" font-size="17.50" letter-spacing="0.765" fill="#000" stroke="#000" stroke-width="0.3">400</text>
<text transform="translate(125.44,412.00) scale(1.080,1)" font-family="Liberation Sans" font-size="17.50" letter-spacing="0.552" fill="#000" stroke="#000" stroke-width="0.3">−0.00</text>
<text transform="translate(201.41,412.00) scale(1.080,1)" font-family="Liberation Sans" font-size="17.50" letter-spacing="0.552" fill="#000" stroke="#000" stroke-width="0.3">−0.00</text>
<text transform="translate(283.44,412.00) scale(1.080,1)" font-family="Liberation Sans" font-size="17.50" letter-spacing="0.458" fill="#000" stroke="#000" stroke-width="0.3">0.00</text>
<text transform="translate(359.41,412.00) scale(1.080,1)" font-family="Liberation Sans" font-size="17.50" letter-spacing="0.458" fill="#000" stroke="#000" stroke-width="0.3">0.00</text>
<text transform="translate(435.38,412.00) scale(1.080,1)" font-family="Liberation Sans" font-size="17.50" letter-spacing="0.458" fill="#000" stroke="#000" stroke-width="0.3">0.00</text>
<text transform="translate(513.94,412.00) scale(1.080,1)" font-family="Liberation Sans" font-size="17.50" letter-spacing="-1.080" fill="#000" stroke="#000" stroke-width="0.3">0.01</text>
<text transform="translate(68.13,19.9) scale(0.720,1)" font-family="Liberation Sans" font-size="16" fill="#000" stroke="#000" stroke-width="0.74">W</text>
<text transform="translate(80.20,19.9) scale(0.752,1)" font-family="Liberation Sans" font-size="16" fill="#000" stroke="#000" stroke-width="0.68">G</text>
<text transform="translate(98.68,19.9) scale(1.031,1)" font-family="Liberation Sans" font-size="16" fill="#000" stroke="#000" stroke-width="0.32">&amp;</text>
<text transform="translate(119.94,19.9) scale(0.895,1)" font-family="Liberation Sans" font-size="16" fill="#000" stroke="#000" stroke-width="0.47">D</text>
<text transform="translate(131.50,19.9) scale(1.000,1)" font-family="Liberation Sans" font-size="16" fill="#000" stroke="#000" stroke-width="0.35">i</text>
<text transform="translate(136.68,19.9) scale(1.093,1)" font-family="Liberation Sans" font-size="16" fill="#000" stroke="#000" stroke-width="0.30">f</text>
<text transform="translate(142.64,19.9) scale(1.300,1)" font-family="Liberation Sans" font-size="16" fill="#000" stroke="#000" stroke-width="0.30">f</text>
<text transform="translate(150.19,19.9) scale(0.968,1)" font-family="Liberation Sans" font-size="16" fill="#000" stroke="#000" stroke-width="0.38">_</text>
<text transform="translate(160.32,19.9) scale(0.720,1)" font-family="Liberation Sans" font-size="16" fill="#000" stroke="#000" stroke-width="0.74">G</text>
<text transform="translate(169.67,19.9) scale(0.944,1)" font-family="Liberation Sans" font-size="16" fill="#000" stroke="#000" stroke-width="0.41">M</text>
<text transform="translate(182.11,19.9) scale(0.991,1)" font-family="Liberation Sans" font-size="16" fill="#000" stroke="#000" stroke-width="0.36">M</text>
<text transform="translate(205.12,19.9) scale(0.832,1)" font-family="Liberation Sans" font-size="16" fill="#000" stroke="#000" stroke-width="0.55">D</text>
<text transform="translate(216.89,19.9) scale(0.867,1)" font-family="Liberation Sans" font-size="16" fill="#000" stroke="#000" stroke-width="0.50">e</text>
<text transform="translate(225.85,19.9) scale(0.956,1)" font-family="Liberation Sans" font-size="16" fill="#000" stroke="#000" stroke-width="0.40">n</text>
<text transform="translate(236.04,19.9) scale(0.913,1)" font-family="Liberation Sans" font-size="16" fill="#000" stroke="#000" stroke-width="0.45">s</text>
<text transform="translate(244.95,19.9) scale(1.000,1)" font-family="Liberation Sans" font-size="16" fill="#000" stroke="#000" stroke-width="0.35">i</text>
<text transform="translate(249.94,19.9) scale(1.293,1)" font-family="Liberation Sans" font-size="16" fill="#000" stroke="#000" stroke-width="0.30">t</text>
<text transform="translate(257.70,19.9) scale(1.000,1)" font-family="Liberation Sans" font-size="16" fill="#000" stroke="#000" stroke-width="0.35">i</text>
<text transform="translate(262.30,19.9) scale(0.853,1)" font-family="Liberation Sans" font-size="16" fill="#000" stroke="#000" stroke-width="0.52">e</text>
<text transform="translate(272.18,19.9) scale(0.841,1)" font-family="Liberation Sans" font-size="16" fill="#000" stroke="#000" stroke-width="0.54">s</text>
<text transform="translate(279.40,19.9) scale(1.000,1)" font-family="Liberation Sans" font-size="16" fill="#000" stroke="#000" stroke-width="0.35">:</text>
<text transform="translate(292.50,19.9) scale(1.097,1)" font-family="Liberation Sans" font-size="16" fill="#000" stroke="#000" stroke-width="0.30">b</text>
<text transform="translate(304.31,19.9) scale(0.987,1)" font-family="Liberation Sans" font-size="16" fill="#000" stroke="#000" stroke-width="0.36">e</text>
<text transform="translate(314.57,19.9) scale(1.146,1)" font-family="Liberation Sans" font-size="16" fill="#000" stroke="#000" stroke-width="0.30">t</text>
<text transform="translate(321.22,19.9) scale(0.976,1)" font-family="Liberation Sans" font-size="16" fill="#000" stroke="#000" stroke-width="0.37">a</text>
<text transform="translate(332.46,19.9) scale(0.796,1)" font-family="Liberation Sans" font-size="16" fill="#000" stroke="#000" stroke-width="0.61">_</text>
<text transform="translate(341.12,19.9) scale(1.096,1)" font-family="Liberation Sans" font-size="16" fill="#000" stroke="#000" stroke-width="0.30">2</text>
<text transform="translate(351.59,19.9) scale(1.013,1)" font-family="Liberation Sans" font-size="16" fill="#000" stroke="#000" stroke-width="0.34">=</text>
<text transform="translate(362.43,19.9) scale(1.090,1)" font-family="Liberation Sans" font-size="16" fill="#000" stroke="#000" stroke-width="0.30">−</text>
<text transform="translate(374.23,19.9) scale(0.948,1)" font-family="Liberation Sans" font-size="16" fill="#000" stroke="#000" stroke-width="0.40">0</text>
<text transform="translate(383.55,19.9) scale(1.000,1)" font-family="Liberation Sans" font-size="16" fill="#000" stroke="#000" stroke-width="0.35">.</text>
<text transform="translate(388.92,19.9) scale(0.961,1)" font-family="Liberation Sans" font-size="16" fill="#000" stroke="#000" stroke-width="0.39">0</text>
<text transform="translate(398.62,19.9) scale(0.961,1)" font-family="Liberation Sans" font-size="16" fill="#000" stroke="#000" stroke-width="0.39">0</text>
<text transform="translate(408.42,19.9) scale(0.961,1)" font-family="Liberation Sans" font-size="16" fill="#000" stroke="#000" stroke-width="0.39">0</text>
<path d="M420.30,11.3 L421.60,8.7 V19.3" stroke="#000" stroke-width="1.55" fill="none" stroke-linejoin="round"/>
<text transform="translate(427.10,19.9) scale(1.000,1)" font-family="Liberation Sans" font-size="16" fill="#000" stroke="#000" stroke-width="0.35">;</text>
<text transform="translate(440.08,19.9) scale(1.015,1)" font-family="Liberation Sans" font-size="16" fill="#000" stroke="#000" stroke-width="0.34">n</text>
<text transform="translate(449.21,19.9) scale(0.987,1)" font-family="Liberation Sans" font-size="16" fill="#000" stroke="#000" stroke-width="0.36">=</text>
<text transform="translate(459.65,19.9) scale(1.125,1)" font-family="Liberation Sans" font-size="16" fill="#000" stroke="#000" stroke-width="0.30">4</text>
<text transform="translate(470.73,19.9) scale(1.082,1)" font-family="Liberation Sans" font-size="16" fill="#000" stroke="#000" stroke-width="0.30">2</text>
<text transform="translate(482.30,19.9) scale(1.000,1)" font-family="Liberation Sans" font-size="16" fill="#000" stroke="#000" stroke-width="0.35">,</text>
<text transform="translate(495.79,19.9) scale(0.856,1)" font-family="Liberation Sans" font-size="16" fill="#000" stroke="#000" stroke-width="0.52">N</text>
<text transform="translate(506.16,19.9) scale(0.923,1)" font-family="Liberation Sans" font-size="16" fill="#000" stroke="#000" stroke-width="0.43">=</text>
<text transform="translate(517.23,19.9) scale(0.960,1)" font-family="Liberation Sans" font-size="16" fill="#000" stroke="#000" stroke-width="0.39">5</text>
<text transform="translate(528.30,19.9) scale(1.000,1)" font-family="Liberation Sans" font-size="16" fill="#000" stroke="#000" stroke-width="0.35">0</text>
<text transform="translate(19.4,248.2) rotate(-90)" font-family="Liberation Sans" font-size="19" letter-spacing="0.6" fill="#000">density</text>
</svg></body></html>
